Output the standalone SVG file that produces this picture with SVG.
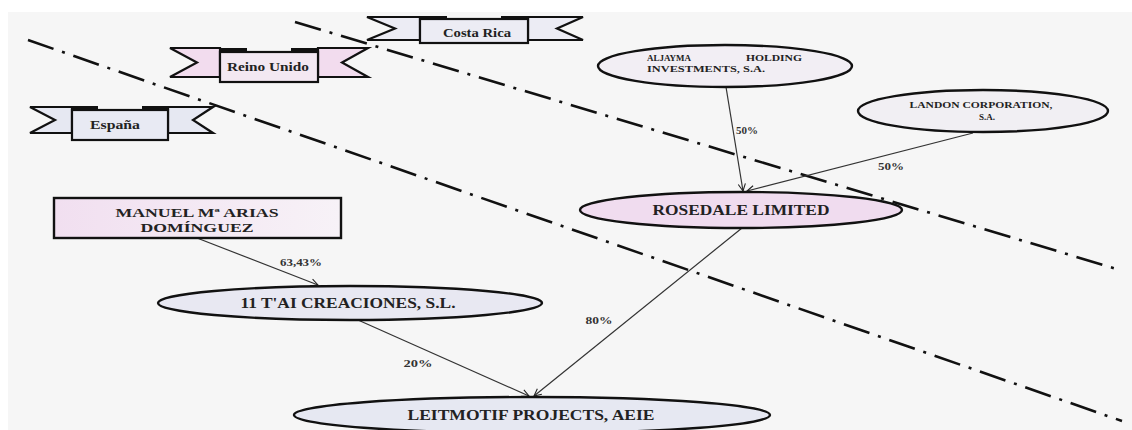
<svg xmlns="http://www.w3.org/2000/svg" width="1132" height="430" viewBox="0 0 1132 430">
<defs>
<marker id="arr" viewBox="0 0 10 10" refX="9" refY="5" markerWidth="9" markerHeight="9" orient="auto" markerUnits="userSpaceOnUse">
<path d="M1,1 L9,5 L1,9" fill="none" stroke="#222" stroke-width="1.2"/>
</marker>
<linearGradient id="pinkg" x1="0" y1="0" x2="1" y2="0">
<stop offset="0" stop-color="#f1dff0"/><stop offset="1" stop-color="#f7f2f7"/>
</linearGradient>
</defs>
<style>
.bg{fill:#f6f6f6}
.dd{fill:none;stroke:#111;stroke-width:2.6;stroke-dasharray:27 9 3 9}
.con{fill:none;stroke:#333;stroke-width:1.2;marker-end:url(#arr)}
.node{stroke:#111;stroke-width:2.4}
.rib{stroke:#111;stroke-width:2.2;stroke-linejoin:miter}
.tab{fill:#111}
.t{font-family:"Liberation Serif",serif;font-weight:bold;fill:#222}
.c{text-anchor:middle}
.s{text-anchor:start}
.e{text-anchor:end}
.nm{font-size:14px}
.sm{font-size:9px}
.lb{font-size:11px;fill:#333}
.bn{font-size:12px}
</style>
<rect x="0" y="0" width="1132" height="430" fill="#ffffff"/>
<rect class="bg" x="8" y="12" width="1124" height="418"/>

<g id="boundaries">
<line class="dd" x1="28" y1="40" x2="1122" y2="421"/>
<line class="dd" x1="295" y1="22" x2="1120" y2="270"/>
</g>

<g id="banner-costa-rica">
<polygon class="rib" fill="#ececf4" points="367,17 420,17 420,40 367,40 395,28.5"/>
<polygon class="rib" fill="#ececf4" points="583,17 528,17 528,40 583,40 557,28.5"/>
<rect class="rib" fill="#ececf4" x="420" y="19" width="108" height="24"/>
<rect class="tab" x="420" y="16" width="27" height="4"/>
<rect class="tab" x="501" y="16" width="27" height="4"/>
<text class="t c bn" x="477" y="37" textLength="68" lengthAdjust="spacingAndGlyphs">Costa Rica</text>
</g>

<g id="banner-reino-unido">
<polygon class="rib" fill="#f2dcee" points="170,48 220,48 220,77 170,77 197,62.5"/>
<polygon class="rib" fill="#f2dcee" points="368,48 318,48 318,77 368,77 342,62.5"/>
<rect class="rib" fill="#f3e8f2" x="220" y="52" width="98" height="30"/>
<rect class="tab" x="220" y="48" width="27" height="5"/>
<rect class="tab" x="291" y="48" width="27" height="5"/>
<text class="t c bn" x="268" y="71" textLength="82" lengthAdjust="spacingAndGlyphs">Reino Unido</text>
</g>

<g id="banner-espana">
<polygon class="rib" fill="#e6e8f2" points="30,107 72,107 72,133 30,133 55,120"/>
<polygon class="rib" fill="#e6e8f2" points="213,107 168,107 168,133 213,133 193,120"/>
<rect class="rib" fill="#e8eaf3" x="72" y="110" width="96" height="30"/>
<rect class="tab" x="72" y="106" width="26" height="5"/>
<rect class="tab" x="142" y="106" width="26" height="5"/>
<text class="t c bn" x="115" y="129" textLength="50" lengthAdjust="spacingAndGlyphs">España</text>
</g>

<g id="connectors">
<line class="con" x1="726" y1="87" x2="743" y2="191"/>
<line class="con" x1="973" y1="133" x2="747" y2="191"/>
<line class="con" x1="197" y1="238" x2="318" y2="285"/>
<line class="con" x1="358" y1="320" x2="529" y2="396"/>
<line class="con" x1="742" y1="228" x2="534" y2="396"/>
<text class="t c lb" x="747" y="134" textLength="22" lengthAdjust="spacingAndGlyphs">50%</text>
<text class="t c lb" x="891" y="170" textLength="26" lengthAdjust="spacingAndGlyphs">50%</text>
<text class="t c lb" x="301" y="266" textLength="42" lengthAdjust="spacingAndGlyphs">63,43%</text>
<text class="t c lb" x="418" y="367" textLength="29" lengthAdjust="spacingAndGlyphs">20%</text>
<text class="t c lb" x="599" y="324" textLength="27" lengthAdjust="spacingAndGlyphs">80%</text>
</g>

<g id="node-aljayma">
<ellipse class="node" cx="725" cy="66" rx="127" ry="21" fill="#f2eef4"/>
<text class="t s sm" x="647" y="61" textLength="44" lengthAdjust="spacingAndGlyphs">ALJAYMA</text>
<text class="t e sm" x="802" y="61" textLength="56" lengthAdjust="spacingAndGlyphs">HOLDING</text>
<text class="t s sm" x="647" y="72" textLength="118" lengthAdjust="spacingAndGlyphs">INVESTMENTS, S.A.</text>
</g>

<g id="node-landon">
<ellipse class="node" cx="983" cy="111" rx="125" ry="21" fill="#f1eff3"/>
<text class="t c sm" x="981" y="108" textLength="143" lengthAdjust="spacingAndGlyphs">LANDON CORPORATION,</text>
<text class="t c sm" x="987" y="120">S.A.</text>
</g>

<g id="node-rosedale">
<ellipse class="node" cx="741" cy="210" rx="161" ry="18" fill="#f0dcef"/>
<text class="t c nm" x="741" y="215" textLength="177" lengthAdjust="spacingAndGlyphs">ROSEDALE LIMITED</text>
</g>

<g id="node-manuel">
<rect class="node" x="54" y="198" width="287" height="40" fill="url(#pinkg)" stroke-width="2"/>
<text class="t c" font-size="13" x="197" y="217" textLength="163" lengthAdjust="spacingAndGlyphs">MANUEL Mª ARIAS</text>
<text class="t c" font-size="13" x="197" y="232" textLength="113" lengthAdjust="spacingAndGlyphs">DOMÍNGUEZ</text>
</g>

<g id="node-tai">
<ellipse class="node" cx="350" cy="303" rx="192" ry="17" fill="#e8e8f2"/>
<text class="t c nm" x="348" y="308" textLength="215" lengthAdjust="spacingAndGlyphs">11 T'AI CREACIONES, S.L.</text>
</g>

<g id="node-leitmotif">
<ellipse class="node" cx="532" cy="415" rx="238" ry="18" fill="#e6e8f2"/>
<text class="t c nm" x="531" y="420" textLength="247" lengthAdjust="spacingAndGlyphs">LEITMOTIF PROJECTS, AEIE</text>
</g>
</svg>
